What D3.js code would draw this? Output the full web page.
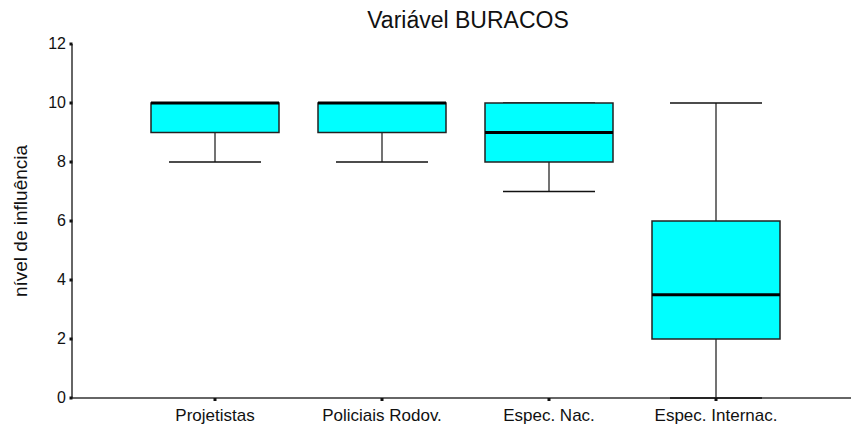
<!DOCTYPE html>
<html>
<head>
<meta charset="utf-8">
<script src="https://cdn.jsdelivr.net/npm/d3@7"></script>
<style>
	body { margin: 0; background: #fff; }
	text { font-family: "Liberation Sans", Arial, sans-serif; fill: #111; }
</style>
</head>
<body>
<div id="chart"></div>
<script>
// dados
let categorias = ["Projetistas", "Policiais Rodov.", "Espec. Nac.", "Espec. Internac."];
let minimos = [8, 8, 7, 0];
let q1s = [9, 9, 8, 2];
let medianas = [10, 10, 9, 3.5];
let q3s = [10, 10, 10, 6];
let maximos = [10, 10, 10, 10];
let yTicks = [0, 2, 4, 6, 8, 10, 12];

function boxplot() {
	let width = 851, height = 428;
	let left = 72, top = 44, bottom = 398, right = 851;

	let svg = d3.select("#chart")
		.append("svg")
		.attr("width", width)
		.attr("height", height);

	let data = categorias.map(function (c, i) {
		return {cat: c, min: minimos[i], q1: q1s[i], med: medianas[i], q3: q3s[i], max: maximos[i]};
	});

	let x = d3.scalePoint()
		.domain(categorias)
		.range([215, 716]);

	let y = d3.scaleLinear()
		.domain([0, 12])
		.range([bottom, top]);

	let boxW = 128, capW = 92;

	// eixos
	svg.append("line")
		.attr("x1", left).attr("x2", left)
		.attr("y1", y(12)).attr("y2", bottom)
		.attr("stroke", "#333").attr("stroke-width", 1.5);
	svg.append("line")
		.attr("x1", left).attr("x2", right)
		.attr("y1", bottom).attr("y2", bottom)
		.attr("stroke", "#333").attr("stroke-width", 1.5);

	yTicks.forEach(function (t) {
		svg.append("rect")
			.attr("x", left - 2.5).attr("y", y(t) - 1.5)
			.attr("width", 3).attr("height", 3)
			.attr("fill", "#111");
		svg.append("text")
			.attr("x", left - 6).attr("y", y(t) + 5)
			.attr("text-anchor", "end")
			.attr("font-size", 16)
			.text(t);
	});

	categorias.forEach(function (c) {
		svg.append("rect")
			.attr("x", x(c) - 1.5).attr("y", bottom)
			.attr("width", 3).attr("height", 3)
			.attr("fill", "#111");
		svg.append("text")
			.attr("x", x(c)).attr("y", 421)
			.attr("text-anchor", "middle")
			.attr("font-size", 17)
			.text(c);
	});

	let boxes = svg.append("g")
		.selectAll("g")
		.data(data)
		.enter()
		.append("g");

	// whisker
	boxes.append("line")
		.attr("x1", function (d) { return x(d.cat); })
		.attr("x2", function (d) { return x(d.cat); })
		.attr("y1", function (d) { return y(d.min); })
		.attr("y2", function (d) { return y(d.max); })
		.attr("stroke", "#444").attr("stroke-width", 1.5);

	boxes.selectAll(".cap")
		.data(function (d) { return [{cat: d.cat, v: d.min}, {cat: d.cat, v: d.max}]; })
		.enter()
		.append("line")
		.attr("class", "cap")
		.attr("x1", function (d) { return x(d.cat) - capW / 2; })
		.attr("x2", function (d) { return x(d.cat) + capW / 2; })
		.attr("y1", function (d) { return y(d.v); })
		.attr("y2", function (d) { return y(d.v); })
		.attr("stroke", "#111").attr("stroke-width", 1.5);

	boxes.append("rect")
		.attr("x", function (d) { return x(d.cat) - boxW / 2; })
		.attr("y", function (d) { return y(d.q3); })
		.attr("width", boxW)
		.attr("height", function (d) { return y(d.q1) - y(d.q3); })
		.attr("fill", "#00ffff")
		.attr("stroke", "#222").attr("stroke-width", 1.5);

	boxes.append("line")
		.attr("x1", function (d) { return x(d.cat) - boxW / 2; })
		.attr("x2", function (d) { return x(d.cat) + boxW / 2; })
		.attr("y1", function (d) { return y(d.med); })
		.attr("y2", function (d) { return y(d.med); })
		.attr("stroke", "#000").attr("stroke-width", 3);

	// titulos
	svg.append("text")
		.attr("x", 468).attr("y", 28)
		.attr("text-anchor", "middle")
		.attr("font-size", 23)
		.text("Variável BURACOS");

	svg.append("text")
		.attr("transform", "translate(27,221) rotate(-90)")
		.attr("text-anchor", "middle")
		.attr("font-size", 19)
		.text("nível de influência");
}

boxplot();
</script>
</body>
</html>
